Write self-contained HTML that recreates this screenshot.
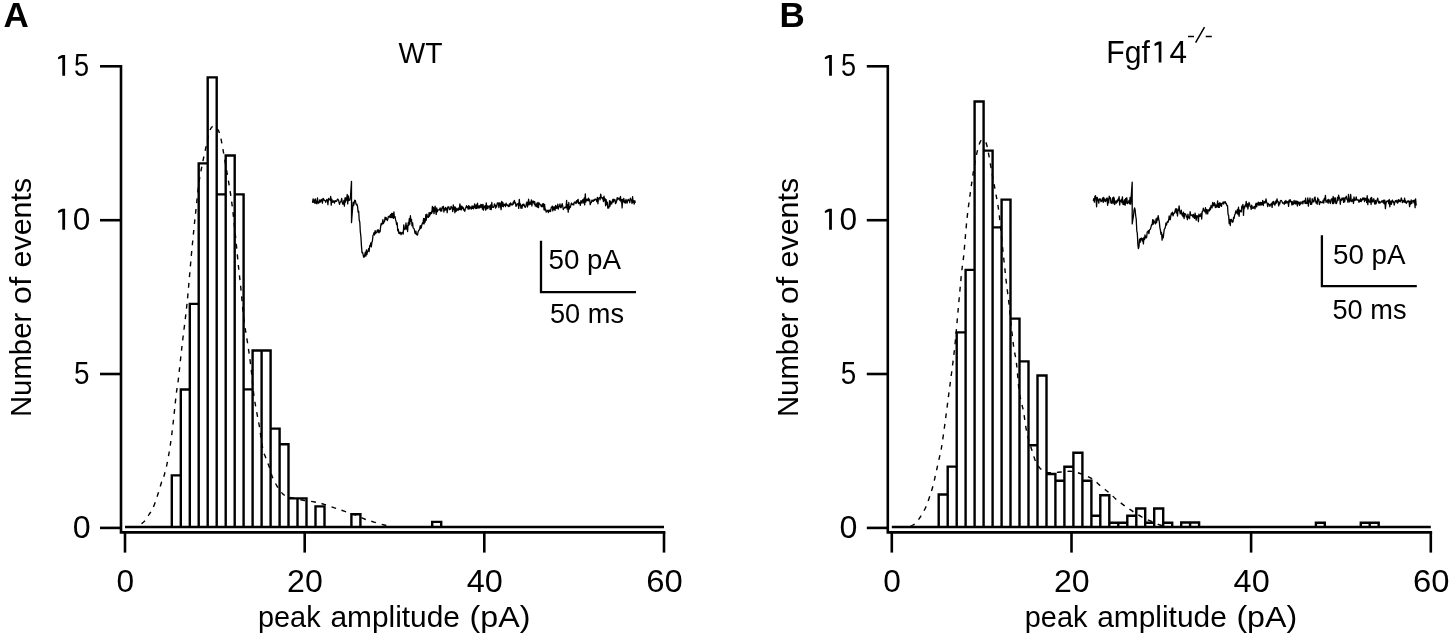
<!DOCTYPE html>
<html><head><meta charset="utf-8"><style>
html,body{margin:0;padding:0;background:#fff;}
svg{display:block;will-change:transform;}
text{font-family:"Liberation Sans",sans-serif;fill:#000;}
.ax{stroke:#000;stroke-width:2.6;fill:none;stroke-linecap:butt;}
.bar{stroke:#000;stroke-width:2.4;fill:none;stroke-linejoin:miter;}
.dash{stroke:#000;stroke-width:1.4;fill:none;stroke-dasharray:4.8 5.8;}
.tr{stroke:#000;stroke-width:1.3;fill:none;stroke-linejoin:round;}
.sb{stroke:#000;stroke-width:2.3;fill:none;}
</style></head><body>
<svg width="1452" height="637" viewBox="0 0 1452 637">
<rect width="1452" height="637" fill="#fff"/>
<path d="M121.0,65 V533.7 M119.7,532.4 H665.3" class="ax"/>
<path d="M100.0,527.9 H121.0" class="ax"/>
<path d="M100.0,374.0 H121.0" class="ax"/>
<path d="M100.0,220.2 H121.0" class="ax"/>
<path d="M100.0,66.3 H121.0" class="ax"/>
<path d="M125.0,532 V552.6" class="ax"/>
<path d="M304.7,532 V552.6" class="ax"/>
<path d="M484.3,532 V552.6" class="ax"/>
<path d="M664.0,532 V552.6" class="ax"/>
<path d="M125.0,527.0 H664.0" class="bar"/>
<path d="M171.8,527.0 V475.4 H180.8 V527.0 M180.8,527.0 V389.5 H189.8 V527.0 M189.8,527.0 V303.9 H198.7 V527.0 M198.7,527.0 V163.4 H207.7 V527.0 M207.7,527.0 V77.4 H216.7 V527.0 M216.7,527.0 V194.4 H225.7 V527.0 M225.7,527.0 V155.5 H234.7 V527.0 M234.7,527.0 V194.4 H243.6 V527.0 M243.6,527.0 V389.4 H252.6 V527.0 M252.6,527.0 V350.5 H261.6 V527.0 M261.6,527.0 V350.5 H270.6 V527.0 M270.6,527.0 V428.6 H279.6 V527.0 M279.6,527.0 V444.3 H288.5 V527.0 M288.5,527.0 V498.4 H297.5 V527.0 M297.5,527.0 V498.4 H306.5 V527.0 M315.5,527.0 V506.4 H324.5 V527.0 M351.4,527.0 V514.2 H360.4 V527.0 M432.2,527.0 V521.9 H441.2 V527.0 " class="bar"/>
<path d="M141.5,523.8 C141.7,523.6 141.9,523.5 142.7,522.8 C143.5,522.1 145.1,521.0 146.2,519.6 C147.2,518.2 148.0,516.1 149.0,514.5 C150.0,512.9 151.0,512.1 152.0,510.2 C153.0,508.3 153.9,505.9 155.0,503.0 C156.1,500.1 157.2,496.3 158.3,493.0 C159.4,489.7 160.4,485.8 161.3,483.0 C162.2,480.2 162.9,480.0 164.0,476.0 C165.1,472.0 166.7,466.2 168.0,459.0 C169.3,451.8 170.7,442.9 172.0,432.7 C173.3,422.5 175.0,405.4 175.8,398.0 C176.6,390.6 176.6,391.7 177.0,388.4 C177.4,385.1 177.7,385.1 178.5,378.0 C179.3,370.9 180.8,356.6 182.0,346.0 C183.2,335.4 184.8,323.4 185.8,314.6 C186.8,305.9 187.1,303.3 188.0,293.5 C188.9,283.7 190.3,266.7 191.3,255.8 C192.3,244.9 193.2,236.4 194.0,228.0 C194.8,219.6 195.6,213.0 196.4,205.5 C197.2,198.0 197.9,190.1 198.9,183.0 C199.9,175.9 201.3,169.1 202.6,162.8 C203.8,156.5 205.2,150.4 206.4,145.2 C207.6,140.0 208.4,134.7 209.5,131.5 C210.6,128.3 211.5,126.9 212.7,126.3 C213.9,125.7 215.2,126.5 216.5,128.0 C217.8,129.6 218.7,129.8 220.2,135.6 C221.7,141.4 223.4,152.0 225.3,162.8 C227.2,173.6 229.8,188.2 231.5,200.5 C233.2,212.8 234.3,225.1 235.5,236.3 C236.7,247.5 237.7,258.8 238.6,267.7 C239.5,276.6 240.1,280.8 241.0,289.7 C241.9,298.6 243.0,312.2 244.1,321.0 C245.2,329.8 246.4,335.2 247.5,342.6 C248.6,350.0 249.6,356.5 250.7,365.2 C251.8,373.9 252.7,386.1 253.8,394.6 C254.9,403.1 256.6,411.1 257.5,416.4 C258.4,421.7 258.5,421.2 259.4,426.4 C260.2,431.6 261.6,442.6 262.6,447.8 C263.7,453.0 264.6,454.7 265.7,457.8 C266.8,460.9 267.9,463.2 269.0,466.3 C270.1,469.4 271.0,473.4 272.3,476.7 C273.6,480.0 275.3,483.3 277.0,486.1 C278.7,488.9 280.9,492.0 282.6,493.7 C284.3,495.4 285.3,495.7 287.4,496.5 C289.5,497.3 292.3,498.0 295.0,498.6 C297.7,499.2 300.1,499.7 303.4,500.3 C306.6,500.9 311.0,501.3 314.5,502.0 C318.0,502.7 321.0,503.3 324.3,504.3 C327.6,505.3 331.1,506.7 334.4,507.8 C337.7,508.9 340.6,510.0 344.2,511.2 C347.8,512.4 352.4,513.7 355.8,515.0 C359.2,516.3 361.5,517.8 364.5,519.0 C367.5,520.2 370.7,521.1 374.0,522.1 C377.3,523.1 381.6,524.3 384.3,525.0 C387.0,525.7 389.1,526.2 390.0,526.5" class="dash"/>
<polyline points="312.5,202.9 313.1,198.9 313.6,202.1 314.2,200.0 314.7,203.2 315.3,198.8 315.8,202.5 316.4,203.7 316.9,201.4 317.5,198.0 318.0,203.6 318.6,202.0 319.1,202.7 319.7,200.0 320.2,202.2 320.8,201.3 321.3,199.4 321.9,200.3 322.4,203.2 323.0,198.4 323.5,198.6 324.1,200.4 324.6,200.2 325.2,200.7 325.7,202.3 326.3,200.6 326.8,199.5 327.4,200.3 327.9,204.7 328.5,198.5 329.0,199.5 329.6,199.3 330.1,200.2 330.7,196.3 331.2,205.1 331.8,199.1 332.3,201.9 332.9,202.4 333.4,200.8 334.0,201.0 334.5,203.0 335.1,200.7 335.6,200.9 336.2,201.4 336.7,201.2 337.3,199.4 337.8,199.2 338.4,199.9 338.9,201.6 339.5,204.4 340.0,202.5 340.6,201.8 341.1,201.2 341.7,198.4 342.2,202.3 342.8,204.2 343.3,204.2 343.9,200.3 344.4,206.2 345.0,197.8 345.5,202.0 346.1,197.7 346.6,200.1 347.2,194.5 347.7,203.9 348.3,196.0 348.8,200.5 349.4,200.3 349.9,200.0 350.5,196.1 351.5,181.3 351.5,222.6 352.6,208.2 353.2,202.2 353.7,205.5 354.3,202.4 354.8,200.2 355.4,200.6 355.9,203.5 356.5,204.9 357.0,204.3 357.6,206.6 358.1,212.1 358.7,211.2 359.2,220.0 359.8,222.2 360.3,231.5 360.9,236.6 361.4,245.1 362.0,252.6 362.5,252.2 363.1,254.5 363.6,257.2 364.2,257.1 364.7,255.1 365.3,252.2 365.8,256.2 366.4,250.0 366.9,254.6 367.5,251.4 368.0,251.0 368.6,248.6 369.1,251.7 369.7,245.6 370.2,246.0 370.8,242.8 371.3,246.8 371.9,242.3 372.4,241.0 373.0,235.3 373.5,234.5 374.1,232.3 374.6,235.0 375.2,230.6 375.7,233.4 376.3,232.8 376.8,231.8 377.4,229.9 377.9,232.1 378.5,229.9 379.0,232.8 379.6,230.8 380.1,231.7 380.7,225.9 381.2,223.5 381.8,224.7 382.3,223.3 382.9,219.7 383.4,223.6 384.0,222.0 384.5,221.7 385.1,217.2 385.6,219.5 386.2,217.6 386.7,219.3 387.3,220.6 387.8,219.2 388.4,216.3 388.9,216.9 389.5,216.0 390.0,217.5 390.6,214.3 391.1,217.6 391.7,213.3 392.2,217.3 392.8,213.5 393.3,218.4 393.9,211.8 394.4,217.5 395.0,216.6 395.5,219.4 396.1,221.5 396.6,224.6 397.2,222.9 397.7,230.8 398.3,229.3 398.8,233.2 399.4,233.6 399.9,232.2 400.5,232.5 401.0,234.6 401.6,233.4 402.1,232.4 402.7,232.5 403.2,234.2 403.8,224.8 404.3,229.0 404.9,229.5 405.4,228.5 406.0,223.0 406.5,229.0 407.1,225.9 407.6,231.5 408.2,222.7 408.7,225.4 409.3,218.6 409.8,224.1 410.4,215.7 410.9,221.1 411.5,219.4 412.0,225.8 412.6,222.8 413.1,227.8 413.7,228.4 414.2,228.9 414.8,232.2 415.3,233.7 415.9,231.1 416.4,234.3 417.0,234.9 417.5,235.1 418.1,231.7 418.6,230.7 419.2,230.0 419.7,228.5 420.3,225.7 420.8,228.6 421.4,227.3 421.9,224.4 422.5,223.0 423.0,223.5 423.6,218.3 424.1,223.9 424.7,218.7 425.2,222.0 425.8,214.7 426.3,220.2 426.9,214.2 427.4,217.1 428.0,216.7 428.5,217.3 429.1,212.6 429.6,216.1 430.2,212.7 430.7,214.1 431.3,212.0 431.8,213.3 432.4,206.3 432.9,211.6 433.5,207.3 434.0,213.7 434.6,209.9 435.1,206.1 435.7,211.2 436.2,214.4 436.8,208.0 437.3,211.8 437.9,210.0 438.4,209.9 439.0,209.9 439.5,209.6 440.1,207.9 440.6,211.0 441.2,208.8 441.7,211.2 442.3,206.8 442.8,208.2 443.4,206.3 443.9,212.0 444.5,208.3 445.0,210.4 445.6,207.5 446.1,209.7 446.7,208.4 447.2,212.7 447.8,206.9 448.3,207.2 448.9,206.9 449.4,209.7 450.0,209.5 450.5,209.0 451.1,206.3 451.6,207.8 452.2,207.9 452.7,211.5 453.3,204.8 453.8,209.7 454.4,207.0 454.9,212.8 455.5,207.1 456.0,211.4 456.6,210.7 457.1,208.5 457.7,209.9 458.2,210.4 458.8,208.0 459.3,209.5 459.9,203.8 460.4,209.6 461.0,205.9 461.5,209.8 462.1,206.3 462.6,208.3 463.2,207.5 463.7,210.2 464.3,209.8 464.8,211.4 465.4,208.0 465.9,207.8 466.5,205.7 467.0,207.5 467.6,206.8 468.1,209.2 468.7,205.6 469.2,209.0 469.8,206.5 470.3,208.1 470.9,207.6 471.4,209.2 472.0,205.8 472.5,208.3 473.1,206.2 473.6,208.8 474.2,207.0 474.7,203.8 475.3,207.2 475.8,208.6 476.4,204.9 476.9,208.3 477.5,203.1 478.0,207.8 478.6,206.0 479.1,208.0 479.7,205.6 480.2,207.7 480.8,204.5 481.3,207.1 481.9,204.7 482.4,209.2 483.0,204.3 483.5,210.2 484.1,206.1 484.6,207.5 485.2,205.6 485.7,210.1 486.3,202.8 486.8,208.9 487.4,205.9 487.9,208.6 488.5,206.2 489.0,206.9 489.6,205.9 490.1,209.4 490.7,204.9 491.2,209.7 491.8,202.5 492.3,207.2 492.9,207.3 493.4,207.5 494.0,205.7 494.5,203.8 495.1,205.4 495.6,208.2 496.2,205.3 496.7,206.8 497.3,203.0 497.8,203.6 498.4,203.0 498.9,207.7 499.5,203.4 500.0,202.7 500.6,206.4 501.1,209.7 501.7,201.4 502.2,206.1 502.8,202.3 503.3,206.8 503.9,204.1 504.4,205.4 505.0,204.4 505.5,206.6 506.1,203.1 506.6,205.2 507.2,204.6 507.7,205.9 508.3,205.4 508.8,206.7 509.4,204.0 509.9,206.2 510.5,202.8 511.0,203.5 511.6,204.8 512.1,205.1 512.7,204.5 513.2,202.2 513.8,203.8 514.3,200.4 514.9,202.3 515.4,202.7 516.0,206.3 516.5,205.8 517.1,204.0 517.6,204.2 518.2,203.4 518.7,208.4 519.3,199.4 519.8,205.5 520.4,203.9 520.9,208.1 521.5,205.5 522.0,208.3 522.6,204.3 523.1,205.7 523.7,204.1 524.2,204.8 524.8,207.0 525.3,207.3 525.9,206.0 526.4,203.3 527.0,202.0 527.5,207.0 528.1,203.6 528.6,199.2 529.2,204.9 529.7,202.7 530.3,202.1 530.8,204.3 531.4,199.9 531.9,206.0 532.5,201.2 533.0,202.4 533.6,201.1 534.1,204.0 534.7,201.6 535.2,205.8 535.8,204.4 536.3,206.5 536.9,203.2 537.4,207.2 538.0,202.3 538.5,207.7 539.1,203.0 539.6,204.0 540.2,204.3 540.7,205.0 541.3,206.5 541.8,206.8 542.4,203.8 542.9,206.5 543.5,203.6 544.0,209.8 544.6,204.3 545.1,210.1 545.7,209.5 546.2,212.1 546.8,211.4 547.3,210.7 547.9,210.1 548.4,212.5 549.0,210.1 549.5,211.2 550.1,209.9 550.6,211.5 551.2,207.5 551.7,207.2 552.3,206.1 552.8,210.9 553.4,206.8 553.9,209.3 554.5,206.8 555.0,210.4 555.6,205.5 556.1,208.6 556.7,206.1 557.2,208.1 557.8,204.1 558.3,209.1 558.9,206.4 559.4,206.4 560.0,204.0 560.5,207.6 561.1,207.6 561.6,205.4 562.2,203.6 562.7,205.8 563.3,209.5 563.8,208.5 564.4,207.9 564.9,207.1 565.5,207.8 566.0,207.5 566.6,200.5 567.1,209.0 567.7,204.7 568.2,212.2 568.8,202.5 569.3,209.2 569.9,206.7 570.4,207.3 571.0,204.4 571.5,203.0 572.1,204.5 572.6,204.5 573.2,203.9 573.7,205.0 574.3,202.2 574.8,202.5 575.4,202.1 575.9,203.6 576.5,200.7 577.0,202.8 577.6,200.2 578.1,199.4 578.7,203.7 579.2,203.1 579.8,202.5 580.3,205.3 580.9,200.7 581.4,201.1 582.0,203.2 582.5,200.1 583.1,199.5 583.6,202.9 584.2,198.0 584.7,204.9 585.3,193.8 585.8,202.1 586.4,199.5 586.9,200.7 587.5,199.1 588.0,200.6 588.6,198.2 589.1,200.8 589.7,199.8 590.2,204.7 590.8,202.8 591.3,202.7 591.9,200.2 592.4,200.2 593.0,201.4 593.5,201.1 594.1,199.5 594.6,200.4 595.2,199.0 595.7,199.4 596.3,199.3 596.8,201.5 597.4,197.5 597.9,203.8 598.5,198.3 599.0,198.0 599.6,197.7 600.1,199.8 600.7,194.1 601.2,197.2 601.8,197.8 602.3,198.8 602.9,197.6 603.4,201.5 604.0,196.1 604.5,200.5 605.1,198.6 605.6,205.8 606.2,199.6 606.7,204.5 607.3,202.1 607.8,208.2 608.4,206.6 608.9,208.0 609.5,200.7 610.0,206.1 610.6,201.2 611.1,204.0 611.7,203.9 612.2,201.9 612.8,199.5 613.3,202.0 613.9,199.1 614.4,200.8 615.0,199.7 615.5,203.7 616.1,202.6 616.6,201.3 617.2,197.6 617.7,199.7 618.3,198.2 618.8,198.9 619.4,198.2 619.9,200.4 620.5,196.3 621.0,201.8 621.6,199.7 622.1,207.9 622.7,199.4 623.2,201.6 623.8,198.4 624.3,202.7 624.9,200.9 625.4,203.2 626.0,199.5 626.5,201.2 627.1,203.2 627.6,201.0 628.2,199.3 628.7,200.5 629.3,200.1 629.8,202.6 630.4,198.2 630.9,199.9 631.5,200.0 632.0,203.5 632.6,196.7 633.1,202.4 633.7,200.8 634.2,204.2 634.8,200.7 635.3,202.8" class="tr"/>
<path d="M541.0,240.7 V292.2 H636.0" class="sb"/>
<text x="3.6" y="27.0" font-size="35.0" text-anchor="start" font-weight="bold" >A</text>
<text x="398.5" y="63.4" font-size="30.0" text-anchor="start" font-weight="normal" textLength="44.0" lengthAdjust="spacingAndGlyphs" >WT</text>
<path d="M58.1,57.2 Q59.6,56.1 62.1,55.0 L65.1,55.0 L65.1,75.7 L62.3,75.7 L62.3,57.8 Q60.3,58.3 58.6,59.3 Q57.5,58.7 58.1,57.2 Z" fill="#000"/>
<text x="74.1" y="76.1" font-size="31.0" text-anchor="start" font-weight="normal" textLength="15.1" lengthAdjust="spacingAndGlyphs" >5</text>
<path d="M58.1,210.9 Q59.6,209.8 62.1,208.7 L65.1,208.7 L65.1,229.7 L62.3,229.7 L62.3,211.5 Q60.3,212.0 58.6,213.0 Q57.5,212.4 58.1,210.9 Z" fill="#000"/>
<text x="72.8" y="229.9" font-size="31.0" text-anchor="start" font-weight="normal" textLength="17.6" lengthAdjust="spacingAndGlyphs" >0</text>
<text x="73.9" y="384.0" font-size="31.0" text-anchor="start" font-weight="normal" textLength="15.5" lengthAdjust="spacingAndGlyphs" >5</text>
<text x="72.8" y="537.6" font-size="31.0" text-anchor="start" font-weight="normal" textLength="17.9" lengthAdjust="spacingAndGlyphs" >0</text>
<text x="116.4" y="592.0" font-size="31.0" text-anchor="start" font-weight="normal" textLength="17.6" lengthAdjust="spacingAndGlyphs" >0</text>
<text x="287.1" y="592.0" font-size="31.0" text-anchor="start" font-weight="normal" textLength="35.7" lengthAdjust="spacingAndGlyphs" >20</text>
<text x="466.8" y="592.0" font-size="31.0" text-anchor="start" font-weight="normal" textLength="36.1" lengthAdjust="spacingAndGlyphs" >40</text>
<text x="646.3" y="592.0" font-size="31.0" text-anchor="start" font-weight="normal" textLength="36.5" lengthAdjust="spacingAndGlyphs" >60</text>
<text x="258.0" y="627.0" font-size="30.0" text-anchor="start" font-weight="normal" textLength="62.6" lengthAdjust="spacingAndGlyphs" >peak</text>
<text x="330.4" y="627.0" font-size="30.0" text-anchor="start" font-weight="normal" textLength="129.6" lengthAdjust="spacingAndGlyphs" >amplitude</text>
<text x="469.6" y="627.0" font-size="30.0" text-anchor="start" font-weight="normal" textLength="60.9" lengthAdjust="spacingAndGlyphs" >(pA)</text>
<text transform="translate(31.30,417.04) rotate(-90)" font-size="30" textLength="104.23" lengthAdjust="spacingAndGlyphs">Number</text><text transform="translate(31.30,304.22) rotate(-90)" font-size="30" textLength="27.33" lengthAdjust="spacingAndGlyphs">of</text><text transform="translate(31.30,267.42) rotate(-90)" font-size="30" textLength="89.62" lengthAdjust="spacingAndGlyphs">events</text>
<text x="548.5" y="269.2" font-size="27.3" text-anchor="start" font-weight="normal" textLength="72.5" lengthAdjust="spacingAndGlyphs" >50 pA</text>
<text x="550.0" y="322.6" font-size="27.3" text-anchor="start" font-weight="normal" textLength="74.0" lengthAdjust="spacingAndGlyphs" >50 ms</text>
<path d="M887.8,65 V533.7 M886.5,532.4 H1432.1" class="ax"/>
<path d="M866.8,527.9 H887.8" class="ax"/>
<path d="M866.8,374.0 H887.8" class="ax"/>
<path d="M866.8,220.2 H887.8" class="ax"/>
<path d="M866.8,66.3 H887.8" class="ax"/>
<path d="M891.8,532 V552.6" class="ax"/>
<path d="M1071.5,532 V552.6" class="ax"/>
<path d="M1251.1,532 V552.6" class="ax"/>
<path d="M1430.8,532 V552.6" class="ax"/>
<path d="M891.8,527.0 H1430.8" class="bar"/>
<path d="M938.7,527.0 V494.5 H947.7 V527.0 M947.7,527.0 V466.6 H956.7 V527.0 M956.7,527.0 V332.4 H965.6 V527.0 M965.6,527.0 V269.9 H974.6 V527.0 M974.6,527.0 V101.5 H983.6 V527.0 M983.6,527.0 V150.6 H992.6 V527.0 M992.6,527.0 V227.4 H1001.6 V527.0 M1001.6,527.0 V199.6 H1010.5 V527.0 M1010.5,527.0 V318.6 H1019.5 V527.0 M1019.5,527.0 V361.4 H1028.5 V527.0 M1028.5,527.0 V445.2 H1037.5 V527.0 M1037.5,527.0 V375.5 H1046.5 V527.0 M1046.5,527.0 V474.0 H1055.4 V527.0 M1055.4,527.0 V480.8 H1064.4 V527.0 M1064.4,527.0 V466.8 H1073.4 V527.0 M1073.4,527.0 V452.8 H1082.4 V527.0 M1082.4,527.0 V480.8 H1091.4 V527.0 M1091.4,527.0 V515.8 H1100.3 V527.0 M1100.3,527.0 V495.3 H1109.3 V527.0 M1109.3,527.0 V522.7 H1118.3 V527.0 M1118.3,527.0 V522.7 H1127.3 V527.0 M1127.3,527.0 V515.8 H1136.3 V527.0 M1136.3,527.0 V508.5 H1145.2 V527.0 M1145.2,527.0 V522.7 H1154.2 V527.0 M1154.2,527.0 V508.5 H1163.2 V527.0 M1163.2,527.0 V522.7 H1172.2 V527.0 M1181.2,527.0 V522.5 H1190.1 V527.0 M1190.1,527.0 V522.5 H1199.1 V527.0 M1315.9,527.0 V522.8 H1324.8 V527.0 M1360.8,527.0 V522.8 H1369.7 V527.0 M1369.7,527.0 V522.8 H1378.7 V527.0 " class="bar"/>
<path d="M910.5,526.3 C910.7,526.2 910.7,526.4 911.6,525.8 C912.5,525.2 914.5,524.5 916.1,522.8 C917.7,521.1 919.7,518.0 921.3,515.4 C922.9,512.8 924.4,510.3 925.8,507.2 C927.2,504.1 928.4,500.4 929.6,496.7 C930.9,493.0 932.2,489.0 933.3,484.8 C934.4,480.6 935.3,475.8 936.3,471.3 C937.3,466.8 938.3,462.6 939.3,457.9 C940.3,453.2 940.8,452.6 942.2,443.0 C943.7,433.4 946.0,415.5 948.0,400.0 C950.0,384.5 952.7,365.3 954.4,350.0 C956.1,334.7 957.1,320.8 958.3,308.0 C959.5,295.2 960.6,282.4 961.5,273.5 C962.4,264.6 962.9,263.8 963.8,254.7 C964.7,245.6 965.9,229.1 967.0,218.7 C968.1,208.3 969.3,200.4 970.4,192.4 C971.5,184.4 972.5,177.0 973.6,170.4 C974.7,163.8 975.8,157.7 976.9,152.9 C978.0,148.2 979.2,144.0 980.2,141.9 C981.2,139.8 982.0,139.8 983.1,140.3 C984.2,140.9 985.3,139.4 986.8,145.2 C988.3,150.9 990.8,166.9 992.3,174.8 C993.8,182.7 994.5,186.2 995.6,192.4 C996.7,198.6 997.8,203.7 998.9,212.1 C1000.0,220.5 1001.0,232.3 1002.1,242.8 C1003.2,253.3 1004.4,264.8 1005.5,275.0 C1006.6,285.2 1008.1,296.0 1009.0,303.8 C1009.9,311.6 1010.0,314.8 1010.8,322.0 C1011.6,329.2 1012.9,341.2 1013.7,347.2 C1014.5,353.2 1015.2,354.5 1015.7,358.0 C1016.2,361.5 1016.5,362.7 1017.0,368.0 C1017.5,373.3 1018.3,384.3 1019.0,390.0 C1019.7,395.7 1020.5,398.2 1021.3,402.0 C1022.1,405.8 1022.8,407.4 1023.7,412.5 C1024.6,417.6 1025.5,426.4 1026.9,432.7 C1028.3,439.0 1030.4,445.5 1031.9,450.3 C1033.4,455.1 1034.4,458.6 1035.7,461.6 C1037.0,464.6 1038.3,466.4 1040.0,468.2 C1041.7,470.0 1043.8,471.6 1045.8,472.3 C1047.8,473.0 1049.4,472.7 1052.0,472.6 C1054.6,472.6 1058.2,472.2 1061.5,472.0 C1064.8,471.8 1068.1,470.9 1071.8,471.4 C1075.5,471.8 1080.1,473.4 1083.6,474.7 C1087.1,476.0 1090.1,477.4 1093.0,479.4 C1095.9,481.4 1098.5,484.2 1101.2,486.5 C1104.0,488.8 1107.0,490.9 1109.5,493.0 C1112.0,495.1 1113.7,497.2 1116.2,499.4 C1118.8,501.5 1121.9,503.8 1124.8,505.9 C1127.7,508.0 1130.6,510.0 1133.5,511.9 C1136.4,513.8 1139.1,515.5 1142.1,517.1 C1145.1,518.7 1148.6,520.1 1151.6,521.4 C1154.6,522.7 1157.6,524.1 1160.0,525.0 C1162.4,525.9 1165.0,526.2 1166.0,526.5" class="dash"/>
<polyline points="1093.3,200.8 1093.8,198.6 1094.4,202.2 1094.9,196.4 1095.5,195.8 1096.0,198.6 1096.6,206.8 1097.1,197.3 1097.7,199.0 1098.2,200.2 1098.8,203.2 1099.3,198.8 1099.9,199.9 1100.4,199.0 1101.0,201.5 1101.5,201.4 1102.1,199.7 1102.6,198.0 1103.2,202.4 1103.7,197.5 1104.3,200.9 1104.8,198.8 1105.4,201.6 1105.9,200.6 1106.5,199.0 1107.0,197.9 1107.6,205.3 1108.1,198.9 1108.7,202.9 1109.2,196.2 1109.8,198.3 1110.3,197.7 1110.9,202.7 1111.4,203.2 1112.0,201.8 1112.5,198.0 1113.1,203.7 1113.6,197.1 1114.2,198.2 1114.7,204.5 1115.3,202.6 1115.8,201.0 1116.4,203.2 1116.9,200.5 1117.5,201.9 1118.0,199.1 1118.6,200.3 1119.1,196.6 1119.7,205.0 1120.2,200.7 1120.8,201.4 1121.3,199.4 1121.9,202.7 1122.4,196.8 1123.0,204.4 1123.5,201.1 1124.1,204.6 1124.6,199.7 1125.2,205.2 1125.7,198.4 1126.3,202.8 1126.8,197.7 1127.4,203.6 1127.9,202.2 1128.5,202.7 1129.0,200.3 1129.6,203.9 1130.1,197.4 1130.7,204.1 1131.2,196.2 1132.2,182.1 1132.2,223.9 1133.5,215.7 1134.0,210.2 1134.6,207.9 1135.1,209.6 1135.7,216.0 1136.2,218.8 1136.8,230.9 1137.3,233.1 1137.9,244.9 1138.4,248.6 1139.0,246.5 1139.5,239.2 1140.1,242.4 1140.6,238.4 1141.2,239.7 1141.7,238.0 1142.3,241.2 1142.8,238.7 1143.4,243.9 1143.9,237.5 1144.5,239.7 1145.0,234.9 1145.6,237.7 1146.1,238.0 1146.7,237.1 1147.2,232.0 1147.8,232.2 1148.3,230.7 1148.9,233.7 1149.4,230.2 1150.0,229.5 1150.5,228.9 1151.1,226.6 1151.6,224.7 1152.2,224.9 1152.7,219.6 1153.3,224.2 1153.8,220.2 1154.4,222.3 1154.9,222.9 1155.5,223.9 1156.0,219.0 1156.6,222.7 1157.1,217.8 1157.7,220.0 1158.2,215.6 1158.8,219.3 1159.3,221.9 1159.9,227.6 1160.4,230.1 1161.0,234.3 1161.5,232.5 1162.1,240.2 1162.6,235.0 1163.2,237.8 1163.7,233.9 1164.3,229.2 1164.8,228.8 1165.4,227.0 1165.9,223.1 1166.5,225.2 1167.0,222.6 1167.6,221.4 1168.1,222.2 1168.7,220.0 1169.2,215.8 1169.8,219.5 1170.3,219.6 1170.9,215.2 1171.4,213.1 1172.0,214.7 1172.5,212.2 1173.1,215.8 1173.6,213.4 1174.2,213.5 1174.7,212.6 1175.3,209.8 1175.8,208.7 1176.4,213.0 1176.9,208.8 1177.5,216.0 1178.0,210.2 1178.6,210.5 1179.1,205.8 1179.7,211.0 1180.2,213.9 1180.8,211.9 1181.3,210.1 1181.9,215.0 1182.4,213.4 1183.0,216.6 1183.5,212.2 1184.1,218.5 1184.6,213.6 1185.2,214.0 1185.7,214.2 1186.3,216.8 1186.8,216.4 1187.4,219.6 1187.9,214.2 1188.5,217.4 1189.0,218.0 1189.6,218.5 1190.1,211.7 1190.7,215.0 1191.2,214.9 1191.8,215.5 1192.3,214.9 1192.9,217.0 1193.4,214.5 1194.0,217.3 1194.5,218.4 1195.1,213.1 1195.6,216.8 1196.2,220.1 1196.7,215.7 1197.3,216.7 1197.8,216.0 1198.4,221.7 1198.9,214.1 1199.5,216.4 1200.0,215.1 1200.6,216.2 1201.1,213.3 1201.7,219.0 1202.2,211.5 1202.8,211.5 1203.3,208.1 1203.9,210.3 1204.4,210.2 1205.0,212.0 1205.5,207.7 1206.1,213.9 1206.6,209.6 1207.2,209.8 1207.7,213.9 1208.3,209.8 1208.8,210.2 1209.4,210.9 1209.9,207.9 1210.5,209.7 1211.0,205.5 1211.6,207.3 1212.1,207.8 1212.7,202.3 1213.2,205.0 1213.8,205.8 1214.3,202.7 1214.9,203.8 1215.4,207.6 1216.0,204.9 1216.5,207.2 1217.1,206.4 1217.6,200.9 1218.2,207.4 1218.7,203.6 1219.3,207.4 1219.8,202.6 1220.4,205.6 1220.9,203.4 1221.5,206.4 1222.0,203.7 1222.6,202.8 1223.1,202.0 1223.7,204.1 1224.2,201.9 1224.8,202.6 1225.3,201.8 1225.9,203.8 1226.4,203.6 1227.0,205.8 1227.5,205.6 1228.1,214.8 1228.6,215.3 1229.2,223.7 1229.7,219.3 1230.3,225.5 1230.8,219.7 1231.4,219.4 1231.9,221.1 1232.5,222.2 1233.0,221.8 1233.6,217.3 1234.1,218.5 1234.7,214.9 1235.2,214.0 1235.8,211.0 1236.3,212.2 1236.9,213.2 1237.4,209.4 1238.0,214.5 1238.5,207.2 1239.1,216.3 1239.6,210.1 1240.2,211.6 1240.7,210.8 1241.3,211.9 1241.8,206.2 1242.4,207.6 1242.9,204.4 1243.5,215.4 1244.0,206.5 1244.6,208.1 1245.1,205.2 1245.7,206.0 1246.2,201.4 1246.8,206.8 1247.3,203.7 1247.9,209.0 1248.4,205.7 1249.0,202.5 1249.5,203.7 1250.1,206.3 1250.6,206.3 1251.2,209.3 1251.7,205.2 1252.3,207.3 1252.8,208.4 1253.4,208.2 1253.9,206.7 1254.5,206.6 1255.0,208.9 1255.6,204.6 1256.1,203.1 1256.7,206.9 1257.2,203.5 1257.8,204.5 1258.3,202.2 1258.9,205.5 1259.4,202.6 1260.0,204.9 1260.5,202.4 1261.1,205.0 1261.6,202.6 1262.2,204.5 1262.7,200.4 1263.3,205.5 1263.8,201.9 1264.4,203.0 1264.9,201.3 1265.5,202.8 1266.0,198.8 1266.6,202.2 1267.1,203.0 1267.7,206.6 1268.2,203.3 1268.8,204.5 1269.3,204.5 1269.9,206.3 1270.4,204.8 1271.0,204.2 1271.5,203.3 1272.1,207.4 1272.6,202.0 1273.2,204.2 1273.7,201.4 1274.3,203.5 1274.8,205.2 1275.4,203.2 1275.9,200.8 1276.5,203.0 1277.0,198.9 1277.6,201.3 1278.1,201.3 1278.7,205.9 1279.2,202.7 1279.8,204.0 1280.3,200.9 1280.9,200.4 1281.4,200.6 1282.0,201.5 1282.5,203.1 1283.1,203.0 1283.6,203.0 1284.2,204.3 1284.7,201.4 1285.3,203.3 1285.8,200.5 1286.4,202.9 1286.9,201.8 1287.5,202.9 1288.0,201.4 1288.6,206.3 1289.1,200.2 1289.7,202.1 1290.2,199.7 1290.8,201.5 1291.3,201.4 1291.9,204.8 1292.4,201.6 1293.0,204.5 1293.5,203.9 1294.1,200.4 1294.6,203.1 1295.2,204.0 1295.7,201.0 1296.3,203.9 1296.8,201.1 1297.4,206.0 1297.9,201.3 1298.5,203.7 1299.0,202.6 1299.6,205.3 1300.1,202.0 1300.7,204.0 1301.2,203.4 1301.8,202.8 1302.3,201.3 1302.9,203.9 1303.4,201.2 1304.0,201.2 1304.5,200.8 1305.1,203.3 1305.6,198.2 1306.2,203.6 1306.7,203.2 1307.3,203.4 1307.8,197.9 1308.4,206.1 1308.9,200.3 1309.5,201.8 1310.0,198.0 1310.6,204.4 1311.1,202.7 1311.7,204.3 1312.2,198.6 1312.8,201.8 1313.3,200.5 1313.9,202.0 1314.4,197.9 1315.0,197.0 1315.5,200.7 1316.1,203.0 1316.6,201.1 1317.2,204.1 1317.7,198.0 1318.3,200.9 1318.8,199.5 1319.4,204.7 1319.9,202.4 1320.5,201.5 1321.0,202.5 1321.6,202.3 1322.1,202.8 1322.7,202.2 1323.2,200.1 1323.8,203.0 1324.3,198.3 1324.9,200.0 1325.4,195.3 1326.0,202.2 1326.5,200.8 1327.1,202.1 1327.6,199.9 1328.2,203.2 1328.7,199.3 1329.3,200.6 1329.8,201.9 1330.4,203.5 1330.9,200.1 1331.5,198.8 1332.0,198.9 1332.6,203.6 1333.1,196.5 1333.7,203.5 1334.2,197.9 1334.8,201.8 1335.3,197.8 1335.9,203.5 1336.4,203.5 1337.0,201.8 1337.5,197.4 1338.1,200.3 1338.6,195.2 1339.2,198.4 1339.7,198.0 1340.3,204.3 1340.8,199.7 1341.4,200.3 1341.9,198.1 1342.5,199.6 1343.0,197.8 1343.6,202.4 1344.1,197.9 1344.7,201.8 1345.2,198.4 1345.8,197.4 1346.3,196.3 1346.9,199.3 1347.4,199.8 1348.0,202.3 1348.5,194.4 1349.1,199.9 1349.6,201.9 1350.2,200.1 1350.7,194.5 1351.3,201.2 1351.8,201.6 1352.4,200.3 1352.9,199.3 1353.5,203.3 1354.0,197.0 1354.6,200.6 1355.1,199.3 1355.7,200.0 1356.2,196.9 1356.8,199.8 1357.3,200.2 1357.9,199.9 1358.4,199.8 1359.0,202.3 1359.5,200.2 1360.1,201.4 1360.6,198.7 1361.2,201.7 1361.7,199.4 1362.3,200.1 1362.8,197.9 1363.4,199.2 1363.9,197.9 1364.5,201.6 1365.0,198.1 1365.6,200.1 1366.1,198.4 1366.7,202.5 1367.2,195.7 1367.8,204.7 1368.3,199.1 1368.9,200.7 1369.4,201.8 1370.0,202.3 1370.5,198.1 1371.1,204.5 1371.6,197.4 1372.2,201.1 1372.7,202.0 1373.3,199.9 1373.8,198.8 1374.4,202.5 1374.9,204.2 1375.5,200.5 1376.0,203.8 1376.6,202.1 1377.1,199.9 1377.7,198.2 1378.2,200.7 1378.8,203.0 1379.3,201.3 1379.9,203.2 1380.4,202.2 1381.0,202.2 1381.5,201.0 1382.1,201.9 1382.6,200.8 1383.2,202.9 1383.7,200.1 1384.3,203.9 1384.8,200.1 1385.4,208.7 1385.9,203.9 1386.5,201.5 1387.0,201.1 1387.6,201.3 1388.1,200.8 1388.7,203.6 1389.2,199.4 1389.8,206.8 1390.3,201.4 1390.9,201.2 1391.4,204.3 1392.0,200.9 1392.5,200.1 1393.1,202.2 1393.6,201.8 1394.2,205.0 1394.7,202.8 1395.3,200.6 1395.8,201.0 1396.4,202.0 1396.9,200.2 1397.5,203.1 1398.0,202.7 1398.6,199.6 1399.1,201.3 1399.7,200.3 1400.2,201.8 1400.8,200.3 1401.3,198.0 1401.9,200.0 1402.4,202.7 1403.0,200.6 1403.5,200.8 1404.1,202.2 1404.6,198.2 1405.2,202.3 1405.7,200.9 1406.3,203.4 1406.8,202.7 1407.4,201.7 1407.9,200.9 1408.5,201.7 1409.0,201.0 1409.6,206.6 1410.1,201.3 1410.7,204.1 1411.2,200.0 1411.8,203.4 1412.3,201.4 1412.9,200.6 1413.4,200.5 1414.0,202.9 1414.5,200.1 1415.1,207.7 1415.6,198.8 1416.2,205.6" class="tr"/>
<path d="M1321.9,235.2 V286.2 H1416.8" class="sb"/>
<text x="779.6" y="27.0" font-size="35.0" text-anchor="start" font-weight="bold" >B</text>
<text x="1106.3" y="63.0" font-size="31.5" text-anchor="start" font-weight="normal" textLength="43.5" lengthAdjust="spacingAndGlyphs" >Fgf</text>
<path d="M1154.5,43.8 Q1156.0,42.7 1158.5,41.6 L1161.4,41.6 L1161.4,62.5 L1158.7,62.5 L1158.7,44.4 Q1156.7,44.9 1155.0,45.9 Q1153.9,45.3 1154.5,43.8 Z" fill="#000"/>
<text x="1187.0" y="62.8" font-size="31.5" text-anchor="end" font-weight="normal" >4</text>
<path d="M1188,36.4 H1194 M1195.6,42.6 L1204.5,27.1 M1205.7,36.4 H1211.8" stroke="#000" stroke-width="1.5" fill="none"/>
<path d="M824.9,57.2 Q826.4,56.1 828.9,55.0 L831.9,55.0 L831.9,75.7 L829.1,75.7 L829.1,57.8 Q827.1,58.3 825.4,59.3 Q824.3,58.7 824.9,57.2 Z" fill="#000"/>
<text x="840.9" y="76.1" font-size="31.0" text-anchor="start" font-weight="normal" textLength="15.1" lengthAdjust="spacingAndGlyphs" >5</text>
<path d="M824.9,210.9 Q826.4,209.8 828.9,208.7 L831.9,208.7 L831.9,229.7 L829.1,229.7 L829.1,211.5 Q827.1,212.0 825.4,213.0 Q824.3,212.4 824.9,210.9 Z" fill="#000"/>
<text x="839.6" y="229.9" font-size="31.0" text-anchor="start" font-weight="normal" textLength="17.6" lengthAdjust="spacingAndGlyphs" >0</text>
<text x="840.7" y="384.0" font-size="31.0" text-anchor="start" font-weight="normal" textLength="15.5" lengthAdjust="spacingAndGlyphs" >5</text>
<text x="839.6" y="537.6" font-size="31.0" text-anchor="start" font-weight="normal" textLength="17.9" lengthAdjust="spacingAndGlyphs" >0</text>
<text x="883.2" y="592.0" font-size="31.0" text-anchor="start" font-weight="normal" textLength="17.6" lengthAdjust="spacingAndGlyphs" >0</text>
<text x="1053.9" y="592.0" font-size="31.0" text-anchor="start" font-weight="normal" textLength="35.7" lengthAdjust="spacingAndGlyphs" >20</text>
<text x="1233.6" y="592.0" font-size="31.0" text-anchor="start" font-weight="normal" textLength="36.1" lengthAdjust="spacingAndGlyphs" >40</text>
<text x="1413.1" y="592.0" font-size="31.0" text-anchor="start" font-weight="normal" textLength="36.5" lengthAdjust="spacingAndGlyphs" >60</text>
<text x="1024.8" y="627.0" font-size="30.0" text-anchor="start" font-weight="normal" textLength="62.6" lengthAdjust="spacingAndGlyphs" >peak</text>
<text x="1097.2" y="627.0" font-size="30.0" text-anchor="start" font-weight="normal" textLength="129.6" lengthAdjust="spacingAndGlyphs" >amplitude</text>
<text x="1236.4" y="627.0" font-size="30.0" text-anchor="start" font-weight="normal" textLength="60.9" lengthAdjust="spacingAndGlyphs" >(pA)</text>
<text transform="translate(798.10,417.04) rotate(-90)" font-size="30" textLength="104.23" lengthAdjust="spacingAndGlyphs">Number</text><text transform="translate(798.10,304.22) rotate(-90)" font-size="30" textLength="27.33" lengthAdjust="spacingAndGlyphs">of</text><text transform="translate(798.10,267.42) rotate(-90)" font-size="30" textLength="89.62" lengthAdjust="spacingAndGlyphs">events</text>
<text x="1333.0" y="263.9" font-size="27.3" text-anchor="start" font-weight="normal" textLength="72.5" lengthAdjust="spacingAndGlyphs" >50 pA</text>
<text x="1332.5" y="319.2" font-size="27.3" text-anchor="start" font-weight="normal" textLength="74.0" lengthAdjust="spacingAndGlyphs" >50 ms</text>
</svg>
</body></html>
